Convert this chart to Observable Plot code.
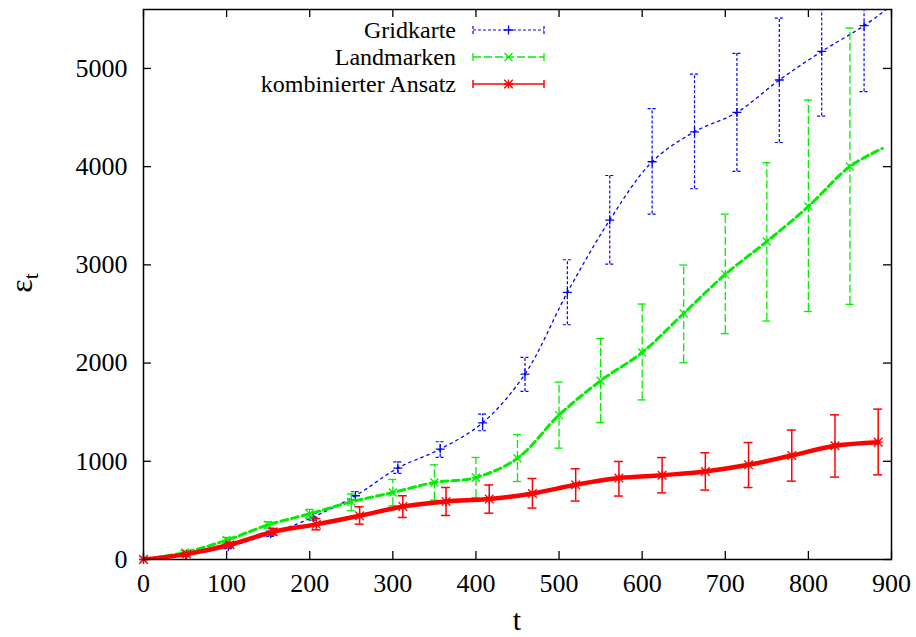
<!DOCTYPE html>
<html>
<head>
<meta charset="utf-8">
<script src="https://cdn.jsdelivr.net/npm/d3@7"></script>
<script src="https://cdn.jsdelivr.net/npm/@observablehq/plot@0.6"></script>
<style>
  html, body { margin: 0; padding: 0; background: #fff; }
  #chart svg { display: block; }
</style>
</head>
<body>
<div id="chart"></div>
<script>
// ---- data ----
const xTicks = [0, 100, 200, 300, 400, 500, 600, 700, 800, 900];
const yTicks = [0, 1000, 2000, 3000, 4000, 5000];

const seriesNames = ["Gridkarte", "Landmarken", "kombinierter Ansatz"];

// Gridkarte (blue)
const gridT  = [0, 51, 102, 153, 204, 255, 306, 357, 408, 459, 510, 561, 612, 663, 714, 765, 816, 867];
const gridV  = [0, 45, 130, 262, 432, 649, 931, 1124, 1392, 1888, 2719, 3456, 4050, 4355, 4552, 4882, 5173, 5435];
const gridLo = [0, 30, 110, 235, 400, 608, 876, 1039, 1311, 1711, 2390, 3008, 3517, 3775, 3951, 4246, 4515, 4763];
const gridHi = [0, 60, 160, 290, 470, 690, 995, 1199, 1481, 2057, 3052, 3910, 4590, 4943, 5153, 5513, 5830, 5600];
const gridLineT = [0, 51, 102, 153, 204, 255, 306, 357, 408, 459, 510, 561, 612, 663, 714, 765, 816, 867, 900];
const gridLineV = [0, 45, 130, 262, 432, 649, 931, 1124, 1392, 1888, 2719, 3456, 4050, 4355, 4552, 4882, 5173, 5435, 5640];

// Landmarken (green)
const landT  = [0, 50, 100, 150, 200, 250, 300, 350, 400, 450, 500, 550, 600, 650, 700, 750, 800, 850];
const landV  = [0, 72, 197, 353, 465, 587, 682, 784, 835, 1031, 1470, 1820, 2108, 2505, 2903, 3238, 3595, 4002];
const landLo = [0, 55, 170, 320, 420, 496, 547, 605, 631, 794, 1134, 1395, 1625, 2003, 2300, 2428, 2525, 2598];
const landHi = [0, 90, 225, 385, 510, 666, 815, 964, 1039, 1272, 1806, 2250, 2601, 2998, 3517, 4040, 4678, 5411];
const landLineT = [0, 50, 100, 150, 200, 250, 300, 350, 400, 450, 500, 550, 600, 650, 700, 750, 800, 850, 889];
const landLineV = [0, 72, 197, 353, 465, 587, 682, 784, 835, 1031, 1470, 1820, 2108, 2505, 2903, 3238, 3595, 4002, 4185];

// kombinierter Ansatz (red)
const kombT  = [0, 52, 104, 156, 208, 260, 312, 364, 416, 468, 520, 572, 624, 676, 728, 780, 832, 884];
const kombV  = [0, 55, 150, 282, 358, 445, 540, 591, 615, 672, 761, 829, 858, 896, 964, 1059, 1158, 1195];
const kombLo = [0, 40, 125, 250, 302, 360, 428, 448, 472, 524, 595, 646, 678, 707, 733, 798, 839, 862];
const kombHi = [0, 70, 175, 315, 417, 537, 649, 733, 759, 825, 924, 998, 1038, 1087, 1191, 1318, 1473, 1531];

// ---- build tables ----
const rows = (T, V, Lo, Hi) => T.map((t, i) => ({t, v: V[i], lo: Lo ? Lo[i] : null, hi: Hi ? Hi[i] : null}));
const grid = rows(gridT, gridV, gridLo, gridHi);
const land = rows(landT, landV, landLo, landHi);
const komb = rows(kombT, kombV, kombLo, kombHi);
const gridLine = rows(gridLineT, gridLineV);
const landLine = rows(landLineT, landLineV);

const W = 916, H = 637;
const mL = 143, mR = 25, mT = 9, mB = 78;
const innerW = W - mL - mR, innerH = H - mT - mB;
const FONT = "Liberation Serif";

const styles = {
  grid: {color: "#0000ff", lineW: 1.3, lineDash: "2.5,4", barW: 1.2, barDash: "3,2", cap: 4},
  land: {color: "#00ee00", lineW: 3, lineDash: "7,4", barW: 1.3, barDash: "8,3", cap: 4},
  komb: {color: "#ff0000", lineW: 4.5, lineDash: null, barW: 1.5, barDash: null, cap: 4.5}
};

function errorMarks(data, s) {
  const d = data.filter(r => r.hi > r.lo);
  const common = {stroke: s.color, strokeWidth: s.barW, strokeDasharray: s.barDash, clip: "frame"};
  return [
    Plot.ruleX(d, {x: "t", y1: "lo", y2: "hi", ...common}),
    Plot.ruleY(d, {x1: "t", x2: "t", y: "hi", insetLeft: -s.cap, insetRight: -s.cap, ...common}),
    Plot.ruleY(d, {x1: "t", x2: "t", y: "lo", insetLeft: -s.cap, insetRight: -s.cap, ...common})
  ];
}

const chart = Plot.plot({
  width: W,
  height: H,
  marginLeft: mL,
  marginRight: mR,
  marginTop: mT,
  marginBottom: mB,
  style: {fontFamily: FONT, fontSize: "26px", background: "white", color: "black"},
  x: {domain: [0, 900], label: null},
  y: {domain: [0, 5600], label: null},
  marks: [
    // Gridkarte
    Plot.line(gridLine, {x: "t", y: "v", stroke: styles.grid.color, strokeWidth: styles.grid.lineW, strokeDasharray: styles.grid.lineDash, curve: "catmull-rom", clip: "frame"}),
    ...errorMarks(grid, styles.grid),
    Plot.dot(grid, {x: "t", y: "v", symbol: "plus", r: 3, stroke: styles.grid.color, strokeWidth: 1.3, fill: "none"}),
    // Landmarken
    Plot.line(landLine, {x: "t", y: "v", stroke: styles.land.color, strokeWidth: styles.land.lineW, strokeDasharray: styles.land.lineDash, curve: "catmull-rom", clip: "frame"}),
    ...errorMarks(land, styles.land),
    Plot.dot(land, {x: "t", y: "v", symbol: "times", r: 3.7, stroke: styles.land.color, strokeWidth: 1.3, fill: "none"}),
    // kombinierter Ansatz
    Plot.line(komb, {x: "t", y: "v", stroke: styles.komb.color, strokeWidth: styles.komb.lineW, curve: "catmull-rom", strokeLinecap: "round", clip: "frame"}),
    ...errorMarks(komb, styles.komb),
    Plot.dot(komb, {x: "t", y: "v", symbol: "plus", r: 3, stroke: styles.komb.color, strokeWidth: 1.3, fill: "none"}),
    Plot.dot(komb, {x: "t", y: "v", symbol: "times", r: 4, stroke: styles.komb.color, strokeWidth: 1.3, fill: "none"}),
    // inward ticks on all four sides
    Plot.tickX(xTicks, {x: d => d, insetTop: innerH - 8, stroke: "black", strokeWidth: 1.3}),
    Plot.tickX(xTicks, {x: d => d, insetBottom: innerH - 8, stroke: "black", strokeWidth: 1.3}),
    Plot.tickY(yTicks, {y: d => d, insetRight: innerW - 8, stroke: "black", strokeWidth: 1.3}),
    Plot.tickY(yTicks, {y: d => d, insetLeft: innerW - 8, stroke: "black", strokeWidth: 1.3}),
    Plot.axisX({ticks: xTicks, tickSize: 0, tickPadding: 14, tickFormat: d => String(d), fontSize: 26, fontFamily: FONT, label: null}),
    Plot.axisY({ticks: yTicks, tickSize: 0, tickPadding: 16, tickFormat: d => String(d), fontSize: 26, fontFamily: FONT, label: null}),
    Plot.frame({stroke: "black", strokeWidth: 1.5})
  ]
});

document.getElementById("chart").appendChild(chart);

// ---- axis titles and legend (added into the same SVG) ----
const svg = d3.select(chart);

svg.append("text")
  .attr("x", mL + innerW / 2).attr("y", 630)
  .attr("text-anchor", "middle")
  .style("font-family", FONT).style("font-size", "30px")
  .text("t");

const yl = svg.append("text")
  .attr("transform", "translate(32,283) rotate(-90)")
  .attr("text-anchor", "middle")
  .style("font-family", FONT).style("font-size", "32px");
yl.append("tspan").text("ε");
yl.append("tspan").attr("dy", "6").style("font-size", "22px").text("t");

const legendRows = [
  {name: seriesNames[0], s: styles.grid, syms: [[d3.symbolPlus, 3]]},
  {name: seriesNames[1], s: styles.land, syms: [[d3.symbolTimes, 3.7]]},
  {name: seriesNames[2], s: styles.komb, syms: [[d3.symbolPlus, 3], [d3.symbolTimes, 4]]}
];
const lx0 = 473, lx1 = 544, ltx = 456;
legendRows.forEach((row, i) => {
  const cy = 30 + i * 27;
  const g = svg.append("g");
  g.append("text")
    .attr("x", ltx).attr("y", cy + 8)
    .attr("text-anchor", "end")
    .style("font-family", FONT).style("font-size", "24px")
    .text(row.name);
  const dash = row.s.barDash || null;
  g.append("line").attr("x1", lx0).attr("x2", lx1).attr("y1", cy).attr("y2", cy)
    .attr("stroke", row.s.color).attr("stroke-width", row.s.barW).attr("stroke-dasharray", dash);
  [lx0, lx1].forEach(x => {
    g.append("line").attr("x1", x).attr("x2", x).attr("y1", cy - 4).attr("y2", cy + 4)
      .attr("stroke", row.s.color).attr("stroke-width", row.s.barW).attr("stroke-dasharray", dash);
  });
  row.syms.forEach(([sym, r]) => {
    g.append("path")
      .attr("transform", `translate(${(lx0 + lx1) / 2},${cy})`)
      .attr("d", d3.symbol(sym, Math.PI * r * r)())
      .attr("fill", "none").attr("stroke", row.s.color).attr("stroke-width", 1.3);
  });
});
</script>
</body>
</html>
